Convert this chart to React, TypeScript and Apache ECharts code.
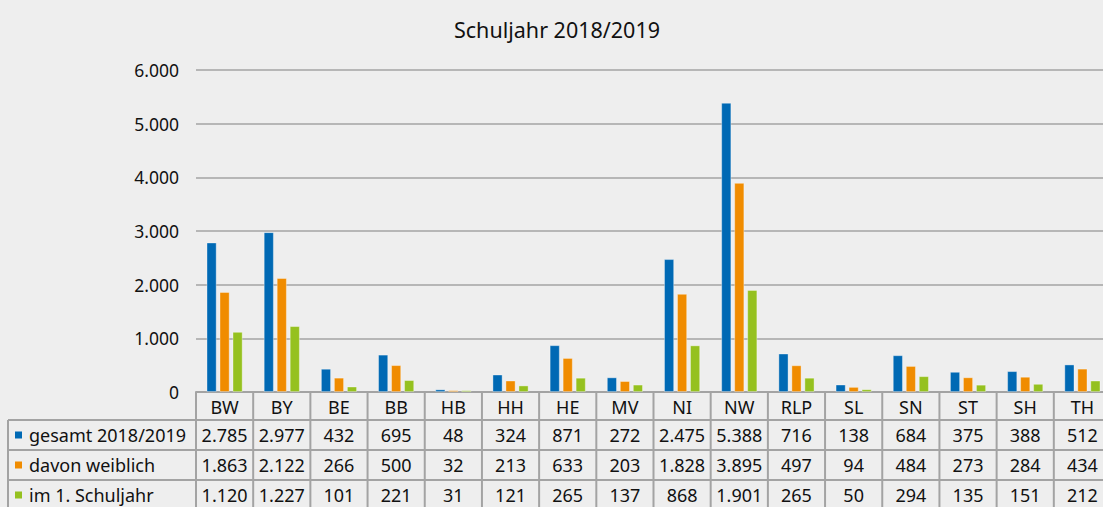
import React, { useEffect, useRef } from "react";
import * as echarts from "echarts";

const categories = ["BW", "BY", "BE", "BB", "HB", "HH", "HE", "MV", "NI", "NW", "RLP", "SL", "SN", "ST", "SH", "TH"];
const seriesNames = ["gesamt 2018/2019", "davon weiblich", "im 1. Schuljahr"];
const gesamt = [2785, 2977, 432, 695, 48, 324, 871, 272, 2475, 5388, 716, 138, 684, 375, 388, 512];
const weiblich = [1863, 2122, 266, 500, 32, 213, 633, 203, 1828, 3895, 497, 94, 484, 273, 284, 434];
const ersteSchuljahr = [1120, 1227, 101, 221, 31, 121, 265, 137, 868, 1901, 265, 50, 294, 135, 151, 212];
const colors = ["#0069b4", "#f08c00", "#95c11f"];
const yMin = 0;
const yMax = 6000;
const yInterval = 1000;

const fmt = (v: number) => String(v).replace(/\B(?=(\d{3})+(?!\d))/g, ".");
const FONT = "'Noto Sans', 'Open Sans', sans-serif";
const TEXT = "#111111";
const LINE = "#a3a3a3";

export default function App() {
  const ref = useRef<HTMLDivElement>(null);
  useEffect(() => {
    if (!ref.current) return;
    const chart = echarts.init(ref.current, null, { renderer: "svg" });
    const allSeries = [gesamt, weiblich, ersteSchuljahr];
    chart.setOption({
      animation: false,
      backgroundColor: "#eeeeee",
      title: {
        text: "Schuljahr 2018/2019",
        left: 552,
        top: 13,
        textAlign: "center",
        textStyle: { fontFamily: FONT, fontSize: 21.5, fontWeight: "normal", color: TEXT },
      },
      grid: { left: 196, top: 70, width: 915, height: 322, containLabel: false },
      xAxis: {
        type: "category",
        data: categories,
        axisLine: { show: true, lineStyle: { color: LINE, width: 2 } },
        axisTick: { show: false },
        axisLabel: { show: false },
        splitLine: { show: false },
      },
      yAxis: {
        type: "value",
        min: yMin,
        max: yMax,
        interval: yInterval,
        axisLine: { show: false },
        axisTick: { show: false },
        axisLabel: {
          formatter: (v: number) => fmt(v),
          fontFamily: FONT,
          fontSize: 17.5,
          color: TEXT,
          margin: 17,
        },
        splitLine: { lineStyle: { color: LINE, width: 1.5 } },
      },
      series: allSeries.map((d, i) => ({
        type: "bar",
        name: seriesNames[i],
        data: d,
        barWidth: 10,
        barGap: "30%",
        itemStyle: { color: colors[i], borderColor: "rgba(255,255,255,0.45)", borderWidth: 0.8 },
      })),
    });

    const c0 = chart.convertToPixel({ xAxisIndex: 0 }, categories[0]) as number;
    const c1 = chart.convertToPixel({ xAxisIndex: 0 }, categories[1]) as number;
    const band = c1 - c0;
    const y0 = chart.convertToPixel({ yAxisIndex: 0 }, 0) as number;
    const rowBounds = [y0, y0 + 28, y0 + 58, y0 + 88, y0 + 118];
    const leftX = 8;
    const firstX = c0 - band / 2;
    const lastX = c0 + band * (categories.length - 0.5);
    const els: any[] = [];
    const line = (x1: number, y1: number, x2: number, y2: number) =>
      els.push({ type: "line", shape: { x1, y1, x2, y2 }, style: { stroke: LINE, lineWidth: 2 }, silent: true });
    for (let i = 0; i <= categories.length; i++) {
      const x = firstX + i * band;
      line(x, y0, x, rowBounds[4]);
    }
    line(firstX, rowBounds[1], lastX, rowBounds[1]);
    for (let r = 1; r <= 3; r++) line(leftX, rowBounds[r], lastX, rowBounds[r]);
    line(leftX, rowBounds[1], leftX, rowBounds[4]);
    line(leftX, rowBounds[4], lastX, rowBounds[4]);

    const txt = (text: string, x: number, y: number, align: string) =>
      els.push({
        type: "text",
        x,
        y,
        silent: true,
        style: { text, fontFamily: FONT, fontSize: 18, fill: TEXT, align, verticalAlign: "middle" },
      });
    categories.forEach((cat, i) => {
      const cx = c0 + i * band;
      txt(cat, cx, (rowBounds[0] + rowBounds[1]) / 2 + 1, "center");
      allSeries.forEach((d, r) => {
        txt(fmt(d[i]), cx, (rowBounds[r + 1] + rowBounds[r + 2]) / 2, "center");
      });
    });
    seriesNames.forEach((n, r) => {
      const cy = (rowBounds[r + 1] + rowBounds[r + 2]) / 2;
      els.push({ type: "rect", shape: { x: 15, y: cy - 3.5, width: 7, height: 7 }, style: { fill: colors[r] }, silent: true });
      txt(n, 29, cy, "left");
    });
    chart.setOption({ graphic: { elements: els } });
    return () => chart.dispose();
  }, []);
  return (
    <div style={{ position: "absolute", left: 0, top: 0, width: 1103, height: 507, overflow: "hidden" }}>
      <div ref={ref} style={{ width: 1115, height: 507 }} />
    </div>
  );
}
